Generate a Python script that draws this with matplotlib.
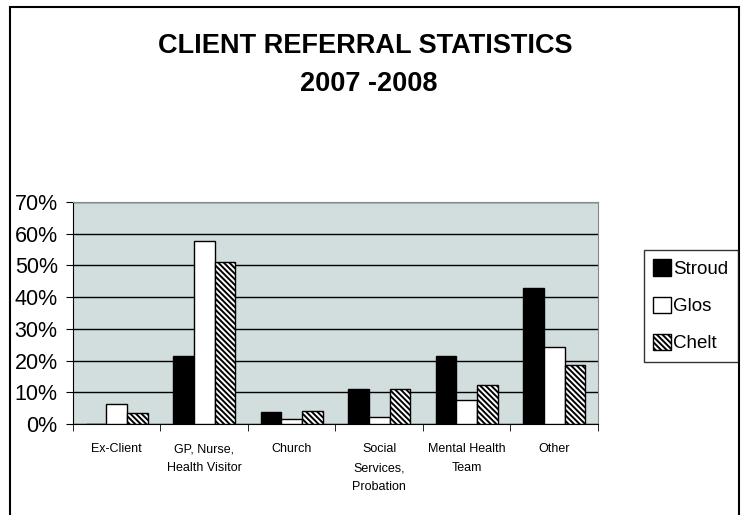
import matplotlib
matplotlib.use("Agg")
import matplotlib.pyplot as plt
import numpy as np
from matplotlib.patches import Rectangle
from matplotlib import font_manager

fams = {f.name for f in font_manager.fontManager.ttflist}
narrow = 'Liberation Sans Narrow' if 'Liberation Sans Narrow' in fams else 'Liberation Sans'

categories = ["Ex-Client", "GP, Nurse,\nHealth Visitor", "Church",
              "Social\nServices,\nProbation", "Mental Health\nTeam", "Other"]
stroud = [0.0, 21.5, 3.7, 11.1, 21.5, 43.0]
glos = [6.4, 57.8, 1.7, 2.3, 7.6, 24.4]
chelt = [3.5, 51.0, 4.2, 11.0, 12.2, 18.6]
series_names = ["Stroud", "Glos", "Chelt"]
yticks = [0, 10, 20, 30, 40, 50, 60, 70]

plt.rcParams['hatch.linewidth'] = 1.4
fig = plt.figure(figsize=(7.52, 5.15), dpi=100)
fig.patches.append(Rectangle((10/752, -0.05), (739-10)/752, 1.05 - 7/515, transform=fig.transFigure,
                             fill=False, edgecolor='black', linewidth=1.5, zorder=0))

ax = fig.add_axes([73/752, 1-424/515, (598-73)/752, (424-202)/515])
ax.set_facecolor('#d2dddd')
x = np.arange(len(categories))
w = 0.235
b1 = ax.bar(x - w, stroud, w, color='black', edgecolor='black', linewidth=1, label=series_names[0], zorder=3)
b2 = ax.bar(x, glos, w, color='white', edgecolor='black', linewidth=1, label=series_names[1], zorder=3)
b3 = ax.bar(x + w, chelt, w, color='white', edgecolor='black', linewidth=1, hatch='\\' * 6, label=series_names[2], zorder=3)

ax.set_xlim(-0.5, len(categories) - 0.5)
ax.set_ylim(0, 70)
ax.set_yticks(yticks)
ax.set_yticklabels([f"{v}%" for v in yticks], family=narrow, fontsize=15.5)
ax.yaxis.grid(True, color='black', linewidth=1, zorder=1)
ax.set_axisbelow(True)
ax.set_xticks(x)
ax.set_xticklabels(categories, family=narrow, fontsize=9, linespacing=1.75)
ax.set_xticks(np.arange(len(categories) + 1) - 0.5, minor=True)
ax.tick_params(axis='x', which='major', length=0, pad=14)
ax.tick_params(axis='x', which='minor', length=5, direction='out', color='black')
ax.tick_params(axis='y', length=5, direction='out', color='black', pad=6)
for s in ['top', 'right']:
    ax.spines[s].set_color('#888888')
for s in ['left', 'bottom']:
    ax.spines[s].set_color('black')

fig.text(365/752, 1 - 46/515, "CLIENT REFERRAL STATISTICS", ha='center', va='center',
         family='Liberation Sans', fontweight='bold', fontsize=19.5)
fig.text(369/752, 1 - 84/515, "2007 -2008", ha='center', va='center',
         family='Liberation Sans', fontweight='bold', fontsize=19.5)

leg = fig.legend(handles=[b1, b2, b3], labels=series_names, loc='upper left',
                 bbox_to_anchor=(644/752, 1 - 250/515), frameon=True, fancybox=False,
                 edgecolor='black', prop={'family': narrow, 'size': 13.5},
                 handlelength=0.95, handleheight=0.95, handletextpad=0.1, labelspacing=1.0,
                 borderpad=0.5, borderaxespad=0)
leg.get_frame().set_linewidth(1)

fig.savefig("out.png", dpi=100)
